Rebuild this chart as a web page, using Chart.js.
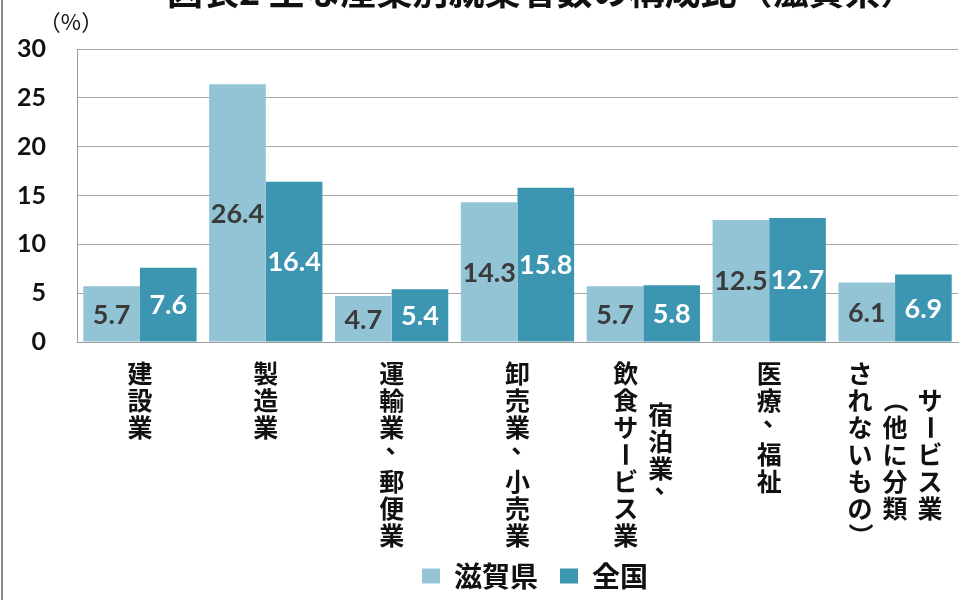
<!doctype html>
<html lang="ja">
<head>
<meta charset="utf-8">
<title>主な産業別就業者数の構成比（滋賀県）</title>
<style>
  html, body { margin: 0; padding: 0; background: #fff; }
  #wrap { width: 959px; height: 600px; }
</style>
</head>
<body>
<div id="wrap"><canvas id="myChart" width="959" height="600"></canvas></div>
<script src="https://cdn.jsdelivr.net/npm/chart.js@4.4.1/dist/chart.umd.min.js"></script>
<script>
// 産業区分（縦書き・右の列から順に）
var categories = [
    ['建設業'],
    ['製造業'],
    ['運輸業、郵便業'],
    ['卸売業、小売業'],
    ['宿泊業、', '飲食サービス業'],
    ['医療、福祉'],
    ['サービス業', '（他に分類', 'されないもの）']
];
var shiga = [5.7, 26.4, 4.7, 14.3, 5.7, 12.5, 6.1];
var zenkoku = [7.6, 16.4, 5.4, 15.8, 5.8, 12.7, 6.9];
var seriesNames = ['滋賀県', '全国'];
var yTicks = [0, 5, 10, 15, 20, 25, 30];
var titleText = '図表2 主な産業別就業者数の構成比（滋賀県）';
var unitText = '（%）';

var JP = '"Noto Sans CJK JP", "Noto Sans", sans-serif';

// 背景・枠線・タイトル・単位
var framePlugin = {
    id: 'frame',
    beforeDraw: function (chart) {
        var ctx = chart.ctx;
        ctx.save();
        ctx.fillStyle = '#ffffff';
        ctx.fillRect(0, 0, chart.width, chart.height);
        ctx.fillStyle = '#8c8c8c';
        ctx.fillRect(1, 0, 2, chart.height);
        ctx.fillStyle = '#111111';
        ctx.font = 'bold 36px ' + JP;
        ctx.textAlign = 'left';
        ctx.textBaseline = 'alphabetic';
        ctx.fillText(titleText, 167, 5);
        ctx.font = '22px ' + JP;
        ctx.textAlign = 'center';
        ctx.textBaseline = 'middle';
        ctx.fillText(unitText, 71, 22);
        ctx.restore();
    }
};

// 棒の中央に数値
var valueLabels = {
    id: 'valueLabels',
    afterDatasetsDraw: function (chart) {
        var ctx = chart.ctx;
        ctx.save();
        ctx.font = 'bold 27px Lato, "Open Sans", sans-serif';
        ctx.textAlign = 'center';
        ctx.textBaseline = 'middle';
        chart.data.datasets.forEach(function (ds, di) {
            var meta = chart.getDatasetMeta(di);
            ctx.fillStyle = di == 0 ? '#3a3a3a' : '#ffffff';
            meta.data.forEach(function (bar, i) {
                ctx.fillText(ds.data[i].toFixed(1), bar.x, (bar.y + bar.base) / 2 + 1);
            });
        });
        ctx.restore();
    }
};

// 縦書きの項目名
var tateLabels = {
    id: 'tateLabels',
    afterDraw: function (chart) {
        var ctx = chart.ctx, xs = chart.scales.x;
        var size = 25, pitch = 27, colGap = 35, top = 360;
        ctx.save();
        ctx.fillStyle = '#111111';
        ctx.font = 'bold ' + size + 'px ' + JP;
        ctx.textAlign = 'center';
        ctx.textBaseline = 'middle';
        categories.forEach(function (cols, i) {
            var cx = xs.getPixelForValue(i);
            var longest = Math.max.apply(null, cols.map(function (c) { return c.length; }));
            cols.forEach(function (col, k) {
                var x = cx + ((cols.length - 1) / 2 - k) * colGap;
                var y0 = top + (longest - col.length) * pitch / 2;
                Array.from(col).forEach(function (ch, j) {
                    var y = y0 + j * pitch + pitch / 2;
                    ctx.save();
                    ctx.translate(x, y);
                    if ('ー（）'.indexOf(ch) >= 0) ctx.rotate(Math.PI / 2);
                    if (ch == '、') ctx.translate(size * 0.25, -size * 0.45);
                    ctx.fillText(ch, 0, 0);
                    ctx.restore();
                });
            });
        });
        ctx.restore();
    }
};

// 凡例を少し右へ
var legendShift = {
    id: 'legendShift',
    afterLayout: function (chart) {
        if (chart.legend) {
            chart.legend.left += 56;
            chart.legend.right += 56;
        }
    }
};

var ctx = document.getElementById('myChart').getContext('2d');
var chart = new Chart(ctx, {
    type: 'bar',
    data: {
        labels: categories,
        datasets: [
            { label: seriesNames[0], data: shiga, backgroundColor: '#93c4d6', barPercentage: 1, categoryPercentage: 0.9 },
            { label: seriesNames[1], data: zenkoku, backgroundColor: '#3c96b2', barPercentage: 1, categoryPercentage: 0.9 }
        ]
    },
    options: {
        responsive: false,
        animation: false,
        layout: { padding: { top: 49, right: 1, left: 0, bottom: 0 } },
        scales: {
            x: {
                grid: { display: false },
                border: { color: '#9a9a9a' },
                ticks: { display: false },
                afterFit: function (s) { s.height = 198; }
            },
            y: {
                min: yTicks[0],
                max: yTicks[yTicks.length - 1],
                ticks: {
                    stepSize: yTicks[1] - yTicks[0],
                    padding: 31,
                    color: '#111111',
                    font: { family: 'Lato, "Open Sans", sans-serif', size: 25, weight: 'bold' }
                },
                grid: { color: '#a6a6a6', drawTicks: false },
                border: { color: '#9a9a9a' },
                afterFit: function (s) { s.width = 77; }
            }
        },
        plugins: {
            legend: {
                position: 'bottom',
                labels: {
                    boxWidth: 18,
                    boxHeight: 15,
                    padding: 22,
                    color: '#111111',
                    font: { family: JP, size: 28, weight: 'bold' }
                }
            },
            tooltip: { enabled: false }
        }
    },
    plugins: [framePlugin, valueLabels, tateLabels, legendShift]
});
</script>
</body>
</html>
